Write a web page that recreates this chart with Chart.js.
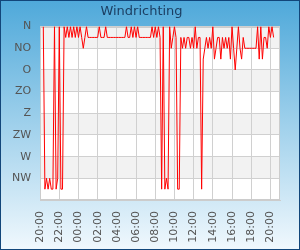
<!DOCTYPE html>
<html>
<head>
<title>Windrichting</title>
<script src="https://cdn.jsdelivr.net/npm/chart.js@4.4.0/dist/chart.umd.min.js"></script>
<style>
    body { margin: 0; }
    #frame {
        width: 300px;
        height: 250px;
        box-sizing: border-box;
        border: 1px solid #12467a;
        background: linear-gradient(to bottom, #4fa9da 0%, #f0f8fd 100%);
    }
    canvas { display: block; }
</style>
</head>
<body>
<div id="frame"><canvas id="chart" width="298" height="248"></canvas></div>
<script>
    // compass labels for 0, 45, ... 360 degrees
    const directionNames = ['N', 'NO', 'O', 'ZO', 'Z', 'ZW', 'W', 'NW', ''];
    const timeTicks = ['20:00', '22:00', '00:00', '02:00', '04:00', '06:00', '08:00',
                       '10:00', '12:00', '14:00', '16:00', '18:00', '20:00'];

    const times = [
        '20:20', '20:30', '20:40', '20:50',
        '21:00', '21:10', '21:20', '21:30', '21:40', '21:50',
        '22:00', '22:10', '22:20', '22:30', '22:40', '22:50',
        '23:00', '23:10', '23:20', '23:30', '23:40', '23:50',
        '00:00', '00:10', '00:20', '00:30', '00:40', '00:50',
        '01:00', '01:10', '01:20', '01:30', '01:40', '01:50',
        '02:00', '02:10', '02:20', '02:30', '02:40', '02:50',
        '03:00', '03:10', '03:20', '03:30', '03:40', '03:50',
        '04:00', '04:10', '04:20', '04:30', '04:40', '04:50',
        '05:00', '05:10', '05:20', '05:30', '05:40', '05:50',
        '06:00', '06:10', '06:20', '06:30', '06:40', '06:50',
        '07:00', '07:10', '07:20', '07:30', '07:40', '07:50',
        '08:00', '08:10', '08:20', '08:30', '08:40', '08:50',
        '09:00', '09:10', '09:20', '09:30', '09:40', '09:50',
        '10:00', '10:10', '10:20', '10:30', '10:40', '10:50',
        '11:00', '11:10', '11:20', '11:30', '11:40', '11:50',
        '12:00', '12:10', '12:20', '12:30', '12:40', '12:50',
        '13:00', '13:10', '13:20', '13:30', '13:40', '13:50',
        '14:00', '14:10', '14:20', '14:30', '14:40', '14:50',
        '15:00', '15:10', '15:20', '15:30', '15:40', '15:50',
        '16:00', '16:10', '16:20', '16:30', '16:40', '16:50',
        '17:00', '17:10', '17:20', '17:30', '17:40', '17:50',
        '18:00', '18:10', '18:20', '18:30', '18:40', '18:50',
        '19:00', '19:10', '19:20', '19:30', '19:40', '19:50',
        '20:00', '20:10', '20:20'
    ];

    // wind direction in degrees (0 = N, 90 = O, ...)
    const directions = [
        0, 337.5, 315, 337.5,
        315, 337.5, 337.5, 0, 337.5, 315,
        0, 337.5, 337.5, 0, 22.5, 0,
        22.5, 0, 22.5, 0, 22.5, 0,
        22.5, 0, 22.5, 45, 22.5, 0,
        22.5, 22.5, 22.5, 22.5, 22.5, 22.5,
        22.5, 0, 22.5, 22.5, 22.5, 0,
        22.5, 22.5, 22.5, 22.5, 22.5, 22.5,
        22.5, 22.5, 22.5, 22.5, 22.5, 22.5,
        0, 22.5, 22.5, 0, 22.5, 0,
        22.5, 0, 22.5, 22.5, 22.5, 22.5,
        22.5, 22.5, 22.5, 22.5, 0, 22.5,
        0, 22.5, 0, 22.5, 337.5, 0,
        337.5, 315, 337.5, 0, 45, 22.5,
        0, 22.5, 337.5, 337.5, 22.5, 45,
        22.5, 45, 22.5, 22.5, 45, 22.5,
        45, 0, 45, 22.5, 22.5, 337.5,
        67.5, 45, 22.5, 45, 22.5, 45,
        0, 67.5, 45, 22.5, 22.5, 67.5,
        22.5, 45, 22.5, 45, 22.5, 67.5,
        0, 45, 90, 45, 0, 45,
        67.5, 22.5, 45, 45, 45, 45,
        45, 45, 45, 45, 0, 67.5,
        0, 67.5, 22.5, 22.5, 45, 0,
        22.5, 0, 22.5
    ];

    // hours since 20:00 of the first day
    let dayOffset = 0, last = -1;
    const points = times.map((t, i) => {
        const [h, m] = t.split(':').map(Number);
        let x = h + m / 60 - 20 + dayOffset;
        if (x < last) { dayOffset += 24; x += 24; }
        last = x;
        return { x: x, y: directions[i] };
    });

    const plotBackground = {
        id: 'plotBackground',
        beforeDraw(chart) {
            const { ctx, chartArea: a, scales: { y } } = chart;
            ctx.save();
            ctx.fillStyle = '#ffffff';
            ctx.fillRect(a.left, a.top, a.width, a.height);
            ctx.fillStyle = '#f2f2f2';
            y.ticks.forEach((t, i) => {
                if (i % 2 === 1 && i + 1 < y.ticks.length) {
                    const y1 = y.getPixelForValue(t.value);
                    const y2 = y.getPixelForValue(y.ticks[i + 1].value);
                    ctx.fillRect(a.left, Math.min(y1, y2), a.width, Math.abs(y2 - y1));
                }
            });
            ctx.restore();
        },
        beforeDatasetsDraw(chart) {
            const { ctx, chartArea: a } = chart;
            ctx.save();
            ctx.strokeStyle = '#cccccc';
            ctx.lineWidth = 1;
            ctx.strokeRect(Math.round(a.left) + 0.5, Math.round(a.top) + 0.5,
                           Math.round(a.width) - 1, Math.round(a.height) - 1);
            ctx.restore();
        }
    };

    new Chart(document.getElementById('chart'), {
        type: 'line',
        data: {
            datasets: [{
                label: 'Windrichting',
                data: points,
                borderColor: '#ff0000',
                borderWidth: 1,
                pointRadius: 0,
                tension: 0,
                fill: false
            }]
        },
        options: {
            responsive: false,
            animation: false,
            layout: { padding: { left: 2, right: 19, top: 0, bottom: 0 } },
            plugins: {
                legend: { display: false },
                tooltip: { enabled: false },
                title: {
                    display: true,
                    text: 'Windrichting',
                    color: '#1c3f63',
                    font: { family: 'DejaVu Sans', size: 13, weight: 'normal' },
                    padding: { top: 3, bottom: 7 }
                }
            },
            scales: {
                x: {
                    type: 'linear',
                    min: 0,
                    max: 25,
                    afterBuildTicks(scale) {
                        scale.ticks = scale.ticks.filter(t => t.value % 2 === 0);
                    },
                    afterFit(scale) {
                        scale.height = 49;
                    },
                    ticks: {
                        stepSize: 2,
                        includeBounds: false,
                        autoSkip: false,
                        minRotation: 90,
                        maxRotation: 90,
                        padding: 11,
                        color: '#555555',
                        font: { family: 'DejaVu Sans', size: 11 },
                        callback: (v, i) => timeTicks[i]
                    },
                    grid: { color: '#d0d0d0', drawTicks: false },
                    border: { color: '#cccccc' }
                },
                y: {
                    type: 'linear',
                    reverse: true,
                    min: 0,
                    max: 360,
                    ticks: {
                        stepSize: 45,
                        padding: 9,
                        color: '#555555',
                        font: { family: 'DejaVu Sans', size: 11 },
                        callback: v => directionNames[v / 45]
                    },
                    grid: { color: '#d0d0d0', drawTicks: false },
                    border: { color: '#cccccc' }
                }
            }
        },
        plugins: [plotBackground]
    });
</script>
</body>
</html>
